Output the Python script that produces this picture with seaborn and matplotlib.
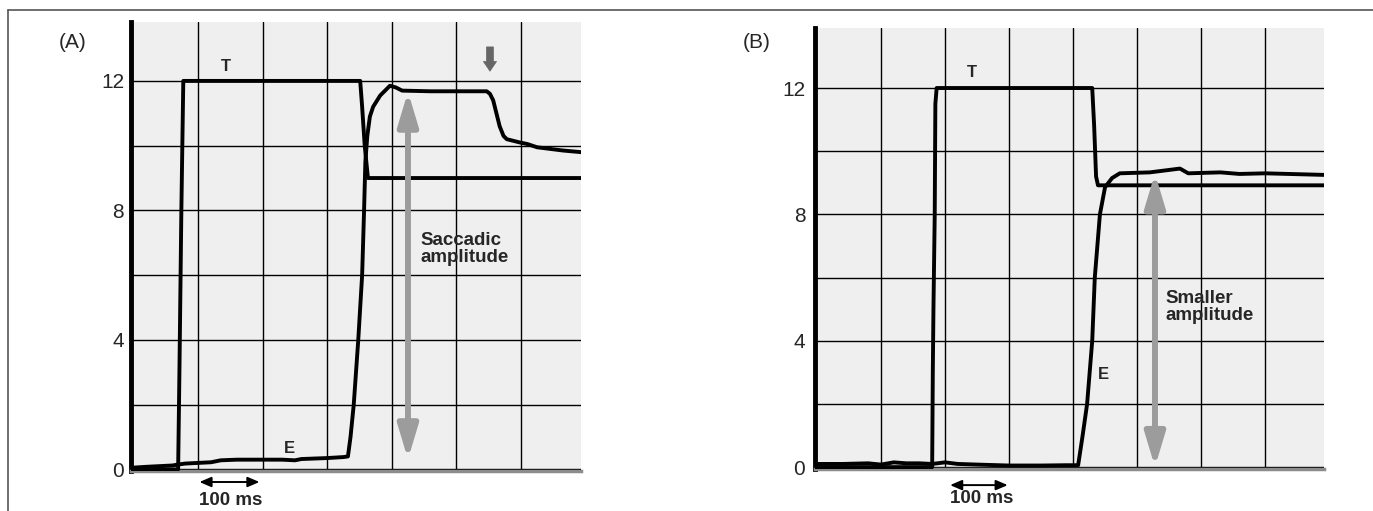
import pandas as pd
import matplotlib.pyplot as plt
from matplotlib.lines import Line2D
import seaborn as sns

sns.set_style("white")
plt.rcParams["font.family"] = ["Liberation Sans", "DejaVu Sans"]

# panel A : time (ms) / position (deg)
a_target_t = [-104, -31, -29, -26, -23, 251, 254, 258, 263, 593]
a_target_pos = [0.0, 0.0, 3.0, 8.0, 12.0, 12.0, 11.2, 10.0, 9.0, 9.0]
a_eye_t = [-104, -80, -60, -40, -31, -20, 0, 20, 35, 60, 100, 130, 150, 160, 200, 225, 232,
           236, 241, 248, 254, 257, 259, 262, 266, 271, 282, 297, 306, 316, 360, 447, 452,
           457, 467, 473, 478, 498, 510, 525, 545, 565, 593]
a_eye_pos = [0.05, 0.08, 0.1, 0.12, 0.15, 0.18, 0.2, 0.22, 0.28, 0.3, 0.3, 0.3, 0.28, 0.32,
             0.35, 0.38, 0.4, 1.0, 2.0, 4.0, 6.0, 8.0, 9.5, 10.3, 10.9, 11.2, 11.55, 11.85,
             11.8, 11.7, 11.68, 11.68, 11.6, 11.4, 10.6, 10.3, 10.2, 10.1, 10.05, 9.95, 9.9,
             9.85, 9.8]

# panel B
b_target_t = [-103, 80, 81, 82, 84, 85, 87, 330, 333, 336, 339, 692]
b_target_pos = [0.0, 0.0, 3.0, 5.0, 8.0, 11.5, 12.0, 12.0, 10.8, 9.2, 8.92, 8.92]
b_eye_t = [-103, -60, -20, 0, 20, 40, 60, 80, 100, 120, 150, 200, 250, 290, 308, 315, 322,
           330, 334, 342, 350, 361, 373, 420, 467, 480, 530, 560, 600, 692]
b_eye_pos = [0.1, 0.1, 0.12, 0.08, 0.15, 0.12, 0.12, 0.1, 0.15, 0.1, 0.08, 0.05, 0.05, 0.06,
             0.06, 1.0, 2.0, 4.0, 6.0, 8.0, 8.86, 9.15, 9.3, 9.33, 9.45, 9.3, 9.33, 9.28,
             9.3, 9.25]

y_ticks = [0, 4, 8, 12]
y_minor = [2, 6, 10]

W, H = 1373, 511
fig = plt.figure(figsize=(W / 100, H / 100), dpi=100)
ax_a = fig.add_axes([131 / W, 1 - 471 / H, 450 / W, 449 / H])
ax_b = fig.add_axes([815 / W, 1 - 469 / H, 509 / W, 441 / H])


def draw_panel(ax, t_t, t_pos, e_t, e_pos, xlim, ylim, vlines, pad):
    ax.set_facecolor("#efefef")
    target = pd.DataFrame({"t": t_t, "pos": t_pos})
    eye = pd.DataFrame({"t": e_t, "pos": e_pos})
    sns.lineplot(data=target, x="t", y="pos", ax=ax, color="black", lw=2.8,
                 estimator=None, sort=False, zorder=3)
    sns.lineplot(data=eye, x="t", y="pos", ax=ax, color="black", lw=2.8,
                 estimator=None, sort=False, zorder=3)
    ax.set_xlim(xlim)
    ax.set_ylim(ylim)
    ax.set_xticks(vlines)
    ax.set_xticklabels([])
    ax.set_yticks(y_ticks)
    ax.set_yticks(y_minor, minor=True)
    ax.set_xlabel("")
    ax.set_ylabel("")
    ax.grid(True, which="both", color="black", lw=1.0)
    ax.set_axisbelow(True)
    ax.tick_params(which="both", length=0, labelsize=15, pad=pad)
    for s in ["top", "right"]:
        ax.spines[s].set_visible(False)
    ax.spines["left"].set_color("black")
    ax.spines["left"].set_linewidth(3.5)
    ax.spines["bottom"].set_color("#8c8c8c")
    ax.spines["bottom"].set_linewidth(2.5)


draw_panel(ax_a, a_target_t, a_target_pos, a_eye_t, a_eye_pos,
           (-104, 593), (-0.05, 13.82), [0, 100, 200, 300, 400, 500], 5)
draw_panel(ax_b, b_target_t, b_target_pos, b_eye_t, b_eye_pos,
           (-103, 692), (-0.06, 13.9), [0, 100, 200, 300, 400, 500, 600], 7)

big_arrow = dict(arrowstyle="<|-|>,head_length=2.0,head_width=0.6", color="#9c9c9c",
                 lw=4.3, shrinkA=0, shrinkB=0)
small_arrow = dict(arrowstyle="<|-|>,head_length=0.7,head_width=0.3", color="black",
                   lw=1.4, shrinkA=0, shrinkB=0)

# A labels and arrows
ax_a.text(43, 12.45, "T", ha="center", va="center", fontsize=12, fontweight="bold")
ax_a.text(141, 0.66, "E", ha="center", va="center", fontsize=12, fontweight="bold")
ax_a.text(344, 6.8, "Saccadic\namplitude", ha="left", va="center", fontsize=13.5,
          fontweight="bold", linespacing=1.0)
ax_a.annotate("", xy=(325, 11.67), xytext=(325, 0.31), arrowprops=big_arrow, zorder=4)
# dark marker arrow pointing down at the E drift
ax_a.annotate("", xy=(452, 12.3), xytext=(452, 13.05),
              arrowprops=dict(arrowstyle="simple,head_length=0.7,head_width=0.95,tail_width=0.5",
                              fc="#666666", ec="#666666", lw=0.5, shrinkA=0, shrinkB=0,
                              mutation_scale=10), zorder=4)
ax_a.annotate("", xy=(2, -0.39), xytext=(95, -0.39), arrowprops=small_arrow,
              annotation_clip=False)
ax_a.text(50, -0.95, "100 ms", ha="center", va="center", fontsize=13.5,
          fontweight="bold", clip_on=False)

# B labels and arrows
ax_b.text(142, 12.5, "T", ha="center", va="center", fontsize=12, fontweight="bold")
ax_b.text(347, 2.94, "E", ha="center", va="center", fontsize=12, fontweight="bold")
ax_b.text(444, 5.06, "Smaller\namplitude", ha="left", va="center", fontsize=13.5,
          fontweight="bold", linespacing=1.0)
ax_b.annotate("", xy=(428, 9.3), xytext=(428, 0.0), arrowprops=big_arrow, zorder=4)
ax_b.annotate("", xy=(108, -0.57), xytext=(198, -0.57), arrowprops=small_arrow,
              annotation_clip=False)
ax_b.text(158, -0.98, "100 ms", ha="center", va="center", fontsize=13.5,
          fontweight="bold", clip_on=False)

fig.text(73 / W, 1 - 42 / H, "(A)", ha="center", va="center", fontsize=15)
fig.text(757 / W, 1 - 42 / H, "(B)", ha="center", va="center", fontsize=15)

# frame around the figure (left and top edges)
fig.add_artist(Line2D([7.5 / W, 7.5 / W], [0, 1 - 10 / H], color="#555555", lw=1.2))
fig.add_artist(Line2D([7.5 / W, 1], [1 - 10 / H, 1 - 10 / H], color="#555555", lw=1.2))

fig.savefig("out.png", dpi=100)
